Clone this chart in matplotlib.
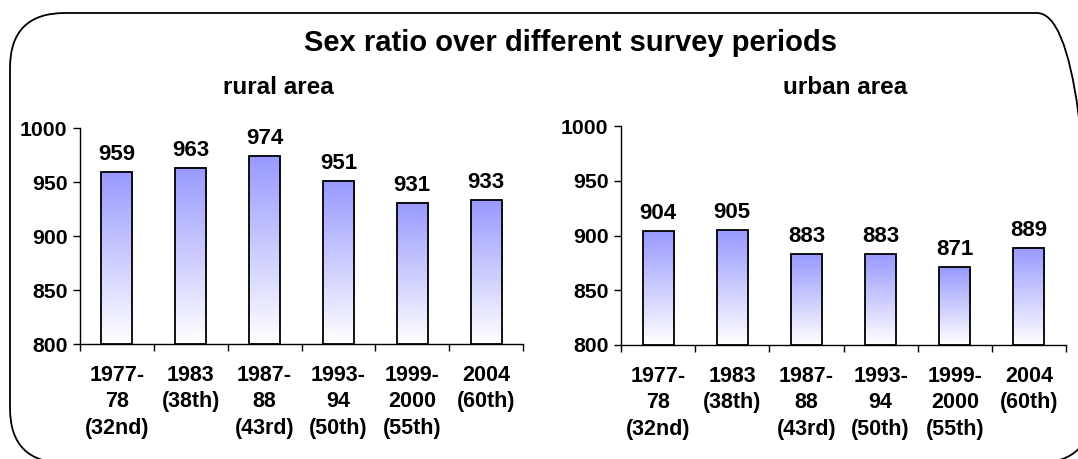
import numpy as np
import matplotlib
matplotlib.use("Agg")
import matplotlib.pyplot as plt
from matplotlib.colors import LinearSegmentedColormap
from matplotlib.patches import FancyBboxPatch

plt.rcParams['font.family'] = ['Liberation Sans', 'DejaVu Sans']
plt.rcParams['font.weight'] = 'bold'

# data
periodi = ["1977-\n78\n(32nd)", "1983\n(38th)", "1987-\n88\n(43rd)",
           "1993-\n94\n(50th)", "1999-\n2000\n(55th)", "2004\n(60th)"]
rural = [959, 963, 974, 951, 931, 933]
urban = [904, 905, 883, 883, 871, 889]
yticks = [800, 850, 900, 950, 1000]

W, H = 1078, 459
fig = plt.figure(figsize=(W / 100, H / 100), dpi=100)

# rama rotunjita (in inch)
rama = FancyBboxPatch((0.10, -0.04), 10.82, 4.50,
                      boxstyle="round,pad=0,rounding_size=0.55",
                      transform=fig.dpi_scale_trans, facecolor='none',
                      edgecolor='black', linewidth=1.3, clip_on=False)
fig.patches.append(rama)

fig.text(571 / W, 1 - 43 / H, "Sex ratio over different survey periods",
         ha='center', va='center', fontsize=21, fontweight='bold')

cmap = LinearSegmentedColormap.from_list("grad", ["#ffffff", "#9999ff"])
grad = np.linspace(0, 1, 256).reshape(-1, 1)


def panou(rect, valori, titlu, titlu_x):
    ax = fig.add_axes(rect)
    n = len(valori)
    xs = np.arange(n)
    latime = 0.42
    for x, v in zip(xs, valori):
        ax.imshow(grad, extent=[x - latime / 2, x + latime / 2, 800, v],
                  origin='lower', aspect='auto', cmap=cmap, zorder=2)
    ax.bar(xs, np.array(valori) - 800, bottom=800, width=latime,
           facecolor='none', edgecolor='black', linewidth=1.3, zorder=3)
    for x, v in zip(xs, valori):
        ax.annotate(str(v), (x, v), xytext=(0, 5), textcoords='offset points',
                    ha='center', va='bottom', fontsize=16, fontweight='bold')
    ax.set_xlim(-0.5, n - 0.5)
    ax.set_ylim(800, 1000)
    ax.set_yticks(yticks)
    ax.set_yticklabels([str(t) for t in yticks], fontsize=15.3, fontweight='bold')
    ax.set_xticks(xs)
    ax.set_xticklabels(periodi, fontsize=15.5, fontweight='bold', linespacing=1.35)
    ax.set_xticks(np.arange(n + 1) - 0.5, minor=True)
    ax.tick_params(axis='x', which='major', length=0, pad=15)
    ax.tick_params(axis='x', which='minor', length=5, width=1, direction='out')
    ax.tick_params(axis='y', length=5, width=1, pad=4)
    for s in ['top', 'right']:
        ax.spines[s].set_visible(False)
    ax.spines['left'].set_linewidth(1)
    ax.spines['bottom'].set_linewidth(1)
    fig.text(titlu_x, 1 - 88 / H, titlu, ha='center', va='center',
             fontsize=17.5, fontweight='bold')
    return ax


panou([80 / W, 0.2505, 443 / W, 0.4706], rural, "rural area", 278 / W)
panou([621 / W, 0.2484, 445 / W, 0.477], urban, "urban area", 845 / W)

fig.savefig("out.png", dpi=100)
